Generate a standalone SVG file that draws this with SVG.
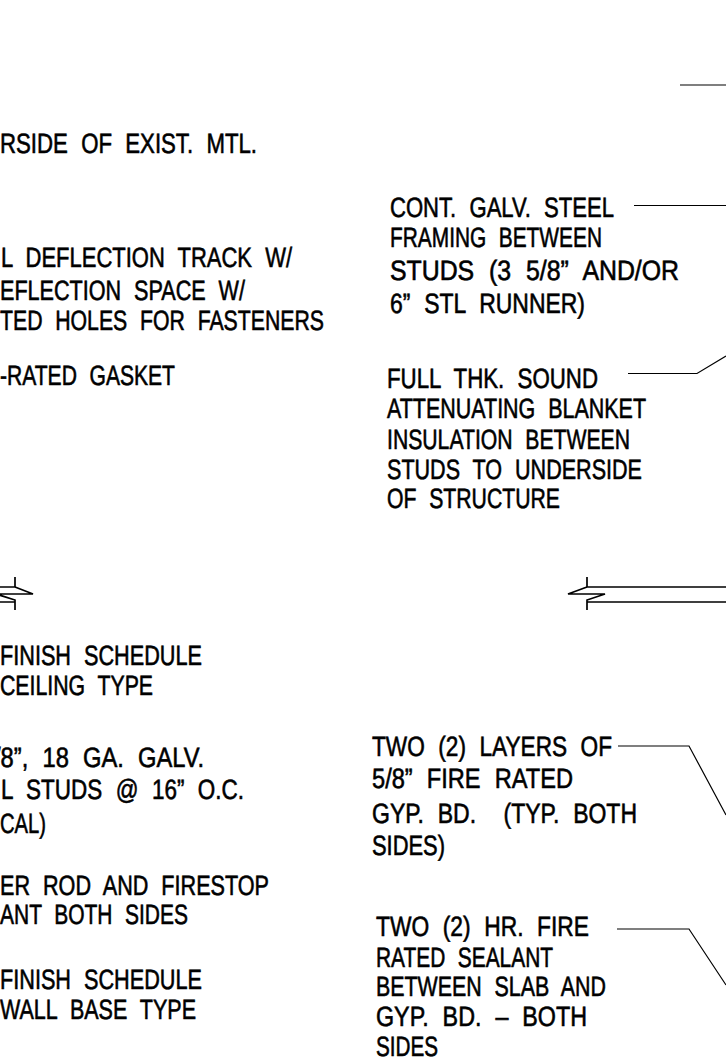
<svg xmlns="http://www.w3.org/2000/svg" width="726" height="1060" viewBox="0 0 726 1060">
<style>
text{font-family:"Liberation Sans",Arial,sans-serif;font-size:28px;fill:#000;white-space:pre;word-spacing:9px;stroke:#000;stroke-width:.6px;text-rendering:geometricPrecision}
.l{fill:none;stroke:#000;stroke-width:1.2}
.b{fill:none;stroke:#000;stroke-width:1.7}
</style>
<rect width="726" height="1060" fill="#fff"/>
<g id="connectors">
<path class="l" d="M680 85H726"/>
<path class="l" d="M634 205.500H726"/>
<path class="l" d="M628 373.500H697L726 356"/>
<path class="l" d="M618 746H689L726 815"/>
<path class="l" d="M617 929H689L726 985"/>
<path class="b" d="M0 587H15V577M15 587L33 594H-4L15 600V610M0 602H15"/>
<path class="b" d="M587 577V587H726M587 587L568 594H605L587 600V610M587 602H726"/>
</g>
<g id="notes-left">
<text x="0" y="153" textLength="257" lengthAdjust="spacingAndGlyphs">RSIDE OF EXIST. MTL.</text>
<text x="1" y="267" textLength="291" lengthAdjust="spacingAndGlyphs">L DEFLECTION TRACK W/</text>
<text x="0" y="300" textLength="245" lengthAdjust="spacingAndGlyphs">EFLECTION SPACE W/</text>
<text x="0" y="330" textLength="324" lengthAdjust="spacingAndGlyphs">TED HOLES FOR FASTENERS</text>
<text x="0" y="385" textLength="175" lengthAdjust="spacingAndGlyphs">-RATED GASKET</text>
<text x="0" y="665" textLength="202" lengthAdjust="spacingAndGlyphs">FINISH SCHEDULE</text>
<text x="0" y="695" textLength="153" lengthAdjust="spacingAndGlyphs">CEILING TYPE</text>
<text x="-6" y="767" textLength="210" lengthAdjust="spacingAndGlyphs">/8”, 18 GA. GALV.</text>
<text x="1" y="799" textLength="243" lengthAdjust="spacingAndGlyphs">L STUDS @ 16” O.C.</text>
<text x="0" y="833" textLength="46" lengthAdjust="spacingAndGlyphs">CAL)</text>
<text x="0" y="895" textLength="269" lengthAdjust="spacingAndGlyphs">ER ROD AND FIRESTOP</text>
<text x="0" y="924" textLength="188" lengthAdjust="spacingAndGlyphs">ANT BOTH SIDES</text>
<text x="0" y="989" textLength="202" lengthAdjust="spacingAndGlyphs">FINISH SCHEDULE</text>
<text x="0" y="1019" textLength="196" lengthAdjust="spacingAndGlyphs">WALL BASE TYPE</text>
</g>
<g id="note-framing">
<text x="390" y="217" textLength="224" lengthAdjust="spacingAndGlyphs">CONT. GALV. STEEL</text>
<text x="390" y="247" textLength="212" lengthAdjust="spacingAndGlyphs">FRAMING BETWEEN</text>
<text x="390" y="280" textLength="289" lengthAdjust="spacingAndGlyphs">STUDS (3 5/8” AND/OR</text>
<text x="390" y="313" textLength="195" lengthAdjust="spacingAndGlyphs">6” STL RUNNER)</text>
</g>
<g id="note-insulation">
<text x="387" y="388" textLength="211" lengthAdjust="spacingAndGlyphs">FULL THK. SOUND</text>
<text x="387" y="418" textLength="259" lengthAdjust="spacingAndGlyphs">ATTENUATING BLANKET</text>
<text x="387" y="449" textLength="243" lengthAdjust="spacingAndGlyphs">INSULATION BETWEEN</text>
<text x="387" y="479" textLength="255" lengthAdjust="spacingAndGlyphs">STUDS TO UNDERSIDE</text>
<text x="387" y="508" textLength="173" lengthAdjust="spacingAndGlyphs">OF STRUCTURE</text>
</g>
<g id="note-gyp">
<text x="372" y="756" textLength="240" lengthAdjust="spacingAndGlyphs">TWO (2) LAYERS OF</text>
<text x="372" y="788" textLength="201" lengthAdjust="spacingAndGlyphs">5/8” FIRE RATED</text>
<text x="372" y="823" textLength="265" lengthAdjust="spacingAndGlyphs">GYP. BD.  (TYP. BOTH</text>
<text x="372" y="855" textLength="73" lengthAdjust="spacingAndGlyphs">SIDES)</text>
</g>
<g id="note-sealant">
<text x="376" y="936" textLength="213" lengthAdjust="spacingAndGlyphs">TWO (2) HR. FIRE</text>
<text x="376" y="967" textLength="177" lengthAdjust="spacingAndGlyphs">RATED SEALANT</text>
<text x="376" y="996" textLength="230" lengthAdjust="spacingAndGlyphs">BETWEEN SLAB AND</text>
<text x="376" y="1026" textLength="211" lengthAdjust="spacingAndGlyphs">GYP. BD. – BOTH</text>
<text x="376" y="1056" textLength="62" lengthAdjust="spacingAndGlyphs">SIDES</text>
</g>
</svg>
